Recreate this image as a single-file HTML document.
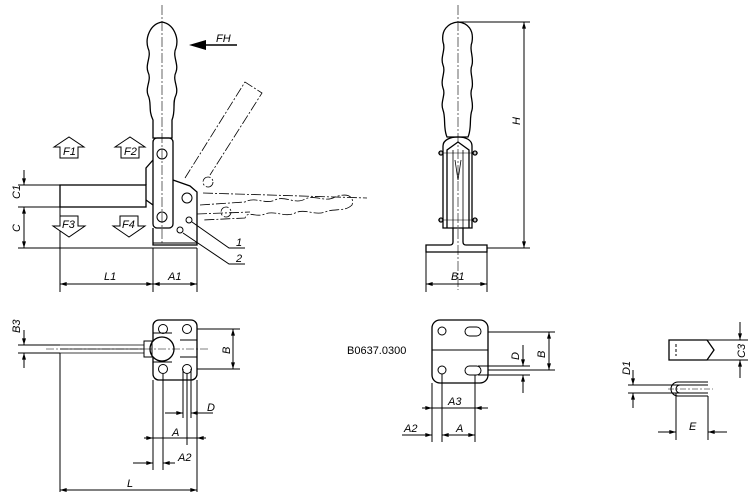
<!DOCTYPE html>
<html><head><meta charset="utf-8"><style>
html,body{margin:0;padding:0;background:#fff;}
svg{display:block;}
text{font-family:"Liberation Sans",sans-serif;font-style:italic;font-size:11px;fill:#000;}
</style></head><body>
<svg width="750" height="498" viewBox="0 0 750 498" xmlns="http://www.w3.org/2000/svg">
<defs>
<marker id="a" viewBox="0 0 10 6" refX="10" refY="3" markerWidth="8" markerHeight="4" orient="auto-start-reverse"><path d="M0,0L10,3L0,6z" fill="#000"/></marker>
</defs>
<g fill="none" stroke="#000" stroke-width="1">
<!-- FRONT VIEW -->
<line x1="162" y1="5" x2="162" y2="245" stroke-width="0.6" stroke-dasharray="10,2,2,2"/>
<path d="M153,138 L153,120 C148,110 152,103 148,95 C145,87 152,80 148,72 C145,64 152,56 148,48 C145,38 150,24 162,22 C174,24 179,38 176,48 C172,56 179,64 176,72 C172,80 179,87 176,95 C172,103 176,110 172,120 L172,138 Z" stroke-width="1.3"/>
<rect x="153" y="138" width="20" height="90" rx="4" stroke-width="1.3"/>
<circle cx="162" cy="154" r="5"/><circle cx="162" cy="217" r="5"/>
<path d="M153,160 L146,168 L146,185 M146,200 L153,205 M173,180 L190,186 L197,192 L197,245 L153,245 L153,228" stroke-width="1.3"/>
<circle cx="187" cy="198" r="5"/>
<circle cx="189" cy="220" r="3"/><circle cx="180" cy="230" r="3"/>
<line x1="153" y1="243" x2="197" y2="243"/>
<rect x="60" y="185" width="86" height="22" stroke-width="1.3"/>
<line x1="18" y1="185" x2="60" y2="185"/><line x1="18" y1="207" x2="60" y2="207"/>
<line x1="18" y1="248" x2="197" y2="248"/>
<line x1="24" y1="170" x2="24" y2="185" marker-end="url(#a)"/>
<line x1="24" y1="207" x2="24" y2="248" marker-start="url(#a)" marker-end="url(#a)"/>
<line x1="60" y1="207" x2="60" y2="292"/><line x1="153" y1="248" x2="153" y2="292"/><line x1="197" y1="248" x2="197" y2="292"/>
<line x1="60" y1="284" x2="153" y2="284" marker-start="url(#a)" marker-end="url(#a)"/>
<line x1="153" y1="284" x2="197" y2="284" marker-start="url(#a)" marker-end="url(#a)"/>
<!-- dashed alternate positions -->
<g stroke-width="0.8" stroke-dasharray="10,2,2,2">
<path d="M185,178 L245,82 L262,93 L210,175"/>
<path d="M203,193 L367,198"/>
<path d="M200,205 L245,202 C255,196 265,205 275,200 C285,195 295,205 305,199 C315,194 325,203 335,197 C345,193 355,195 352,205 C345,212 335,208 325,212 C315,216 305,208 295,213 C285,218 275,210 265,214 C255,218 248,210 245,218 L203,220"/>
<circle cx="208" cy="182" r="5"/><circle cx="226" cy="212" r="5"/>
<line x1="197" y1="214" x2="250" y2="212"/>
</g>
<!-- leaders 1 2 -->
<polyline points="192,222 229,248 245,248"/>
<polyline points="183,233 229,264 245,264"/>
<line x1="205" y1="45" x2="237" y2="45" stroke-width="1.4"/>
</g>
<path d="M189,45 L206,40 L206,50 Z" fill="#000"/>
<g fill="#fff" stroke="#000">
<path d="M54,147 L69,137 L84,147 L78,147 L78,158 L60,158 L60,147 Z"/>
<path d="M115,147 L130,137 L145,147 L139,147 L139,158 L121,158 L121,147 Z"/>
<path d="M60,216 L78,216 L78,226 L85,226 L69,237 L53,226 L60,226 Z"/>
<path d="M120,216 L138,216 L138,226 L145,226 L129,237 L113,226 L120,226 Z"/>
</g>
<text x="63" y="155" font-size="10">F1</text>
<text x="124" y="155" font-size="10">F2</text>
<text x="62" y="228" font-size="10">F3</text>
<text x="122" y="228" font-size="10">F4</text>
<text x="216" y="42">FH</text>
<text x="236" y="246" font-size="10">1</text>
<text x="236" y="262" font-size="10">2</text>
<text x="104" y="280">L1</text>
<text x="168" y="280">A1</text>
<text transform="translate(20,199) rotate(-90)">C1</text>
<text transform="translate(20,232) rotate(-90)">C</text>

<!-- SIDE VIEW -->
<g fill="none" stroke="#000" stroke-width="1.3">
<line x1="458" y1="5" x2="458" y2="290" stroke-width="0.6" stroke-dasharray="10,2,2,2"/>
<path d="M447,137 C443,128 446,118 443,110 C440,102 446,95 443,88 C440,80 446,72 443,65 C440,57 446,50 443,42 C441,30 448,23 458,22 C468,23 474,30 472,42 C469,50 474,57 472,65 C469,72 474,80 472,88 C469,95 474,102 472,110 C469,118 472,128 468,137 Z"/>
<path d="M443,228 L443,146 C443,140 450,137 458,137 C466,137 472,140 472,146 L472,228 Z"/>
<path d="M447,228 L447,150 L458,142 L469,150 L469,228"/>
<path d="M453,150 L453,228 M463,150 L463,228 M455,160 L458,180 L461,160" stroke-width="0.8"/>
<path d="M438,153 L478,153 M438,220 L478,220" stroke-width="0.6"/>
<circle cx="441" cy="153" r="2"/><circle cx="475" cy="153" r="2"/><circle cx="441" cy="220" r="2"/><circle cx="475" cy="220" r="2"/>
<path d="M453,228 L453,242 Q453,245 450,245 L426,245 L426,252 L487,252 L487,245 L466,245 Q463,245 463,242 L463,228"/>
<line x1="458" y1="22" x2="530" y2="22" stroke-width="1"/>
<line x1="487" y1="248" x2="530" y2="248" stroke-width="1"/>
<line x1="524" y1="22" x2="524" y2="248" stroke-width="1" marker-start="url(#a)" marker-end="url(#a)"/>
<line x1="426" y1="252" x2="426" y2="292" stroke-width="1"/><line x1="487" y1="252" x2="487" y2="292" stroke-width="1"/>
<line x1="426" y1="284" x2="487" y2="284" stroke-width="1" marker-start="url(#a)" marker-end="url(#a)"/>
</g>
<text transform="translate(520,125) rotate(-90)">H</text>
<text x="451" y="280">B1</text>

<!-- TOP VIEW -->
<g fill="none" stroke="#000" stroke-width="1">
<rect x="153" y="320" width="44" height="60" rx="6" stroke-width="1.3"/>
<circle cx="163" cy="329" r="4.5"/><circle cx="187" cy="329" r="4.5"/><circle cx="163" cy="369" r="4.5"/><circle cx="187" cy="369" r="4.5"/>
<path d="M153,333 L172,333 M153,362 L172,362 M180,340 L197,340 M180,357 L197,357"/>
<circle cx="162" cy="349" r="12" fill="#fff" stroke-width="1.3"/>
<path d="M144,341 L152,341 L152,357 L144,357 Z"/>
<path d="M60,345 L144,345 M60,353 L144,353 M60,349 L144,349" stroke-width="0.8"/>
<line x1="60" y1="353" x2="60" y2="492"/>
<line x1="46" y1="349" x2="210" y2="349" stroke-width="0.5" stroke-dasharray="8,2,2,2"/>
<line x1="18" y1="345" x2="60" y2="345"/><line x1="18" y1="353" x2="60" y2="353"/>
<line x1="24" y1="330" x2="24" y2="345" marker-end="url(#a)"/>
<line x1="24" y1="368" x2="24" y2="353" marker-end="url(#a)"/>
<line x1="197" y1="329" x2="240" y2="329"/><line x1="197" y1="369" x2="240" y2="369"/>
<line x1="233" y1="329" x2="233" y2="369" marker-start="url(#a)" marker-end="url(#a)"/>
<line x1="153" y1="380" x2="153" y2="470"/><line x1="163" y1="374" x2="163" y2="470"/>
<line x1="183" y1="369" x2="183" y2="418"/><line x1="187" y1="374" x2="187" y2="445"/><line x1="191" y1="369" x2="191" y2="418"/><line x1="197" y1="380" x2="197" y2="492"/>
<line x1="165" y1="413" x2="183" y2="413" marker-end="url(#a)"/><line x1="213" y1="413" x2="191" y2="413" marker-end="url(#a)"/>
<line x1="145" y1="438" x2="205" y2="438"/>
<line x1="144" y1="438" x2="153" y2="438" marker-end="url(#a)"/><line x1="206" y1="438" x2="197" y2="438" marker-end="url(#a)"/>
<line x1="133" y1="463" x2="153" y2="463" marker-end="url(#a)"/><line x1="175" y1="463" x2="163" y2="463" marker-end="url(#a)"/>
<line x1="60" y1="490" x2="197" y2="490" marker-start="url(#a)" marker-end="url(#a)"/>
</g>
<text transform="translate(20,333) rotate(-90)">B3</text>
<text transform="translate(230,354) rotate(-90)">B</text>
<text x="207" y="411">D</text>
<text x="172" y="436">A</text>
<text x="178" y="461">A2</text>
<text x="127" y="487">L</text>

<!-- MIDDLE PLATE -->
<text x="347" y="354" style="font-style:normal" font-size="11">B0637.0300</text>
<g fill="none" stroke="#000" stroke-width="1">
<rect x="432" y="320" width="56" height="63" rx="8" stroke-width="1.3"/>
<line x1="432" y1="350" x2="488" y2="350"/>
<circle cx="442" cy="331" r="4"/><circle cx="442" cy="370" r="4"/>
<rect x="465" y="327" width="16" height="9" rx="4.5"/><rect x="465" y="366" width="16" height="9" rx="4.5"/>
<line x1="488" y1="332" x2="555" y2="332"/><line x1="488" y1="370" x2="555" y2="370"/>
<line x1="478" y1="366" x2="530" y2="366"/><line x1="478" y1="375" x2="530" y2="375"/>
<line x1="549" y1="332" x2="549" y2="370" marker-start="url(#a)" marker-end="url(#a)"/>
<line x1="523" y1="345" x2="523" y2="366" marker-end="url(#a)"/><line x1="523" y1="393" x2="523" y2="375" marker-end="url(#a)"/>
<line x1="432" y1="383" x2="432" y2="442"/><line x1="442" y1="374" x2="442" y2="442"/><line x1="475" y1="375" x2="475" y2="442"/>
<line x1="422" y1="408" x2="488" y2="408"/>
<line x1="422" y1="408" x2="432" y2="408" marker-end="url(#a)"/><line x1="485" y1="408" x2="475" y2="408" marker-end="url(#a)"/>
<line x1="402" y1="435" x2="432" y2="435" marker-end="url(#a)"/>
<line x1="442" y1="435" x2="475" y2="435" marker-start="url(#a)" marker-end="url(#a)"/>
</g>
<text x="448" y="405">A3</text>
<text x="404" y="432">A2</text>
<text x="456" y="432">A</text>
<text transform="translate(519,360) rotate(-90)">D</text>
<text transform="translate(545,358) rotate(-90)">B</text>

<!-- RIGHT FORK -->
<g fill="none" stroke="#000" stroke-width="1">
<path d="M669,340 L707,340 L714,350 L707,360 L669,360 Z" stroke-width="1.3"/>
<path d="M676,344 L676,356" stroke-dasharray="3,2"/>
<line x1="707" y1="340" x2="748" y2="340"/><line x1="707" y1="360" x2="748" y2="360"/>
<line x1="740" y1="322" x2="740" y2="340" marker-end="url(#a)"/><line x1="740" y1="378" x2="740" y2="360" marker-end="url(#a)"/>
<path d="M708,382 L678,382 A7,7 0 0 0 678,396 L708,396 M708,385 L680,385 A4,4 0 0 0 680,393 L708,393" stroke-width="1.1"/>
<line x1="668" y1="389" x2="713" y2="389" stroke-width="0.5" stroke-dasharray="6,2,2,2"/>
<line x1="628" y1="385" x2="680" y2="385"/><line x1="628" y1="393" x2="680" y2="393"/>
<line x1="633" y1="370" x2="633" y2="385" marker-end="url(#a)"/><line x1="633" y1="408" x2="633" y2="393" marker-end="url(#a)"/>
<line x1="676" y1="393" x2="676" y2="440"/><line x1="708" y1="396" x2="708" y2="440"/>
<line x1="658" y1="432" x2="676" y2="432" marker-end="url(#a)"/><line x1="727" y1="432" x2="708" y2="432" marker-end="url(#a)"/>
</g>
<text transform="translate(745,358) rotate(-90)">C3</text>
<text transform="translate(630,375) rotate(-90)">D1</text>
<text x="689" y="430">E</text>
</svg>
</body></html>
